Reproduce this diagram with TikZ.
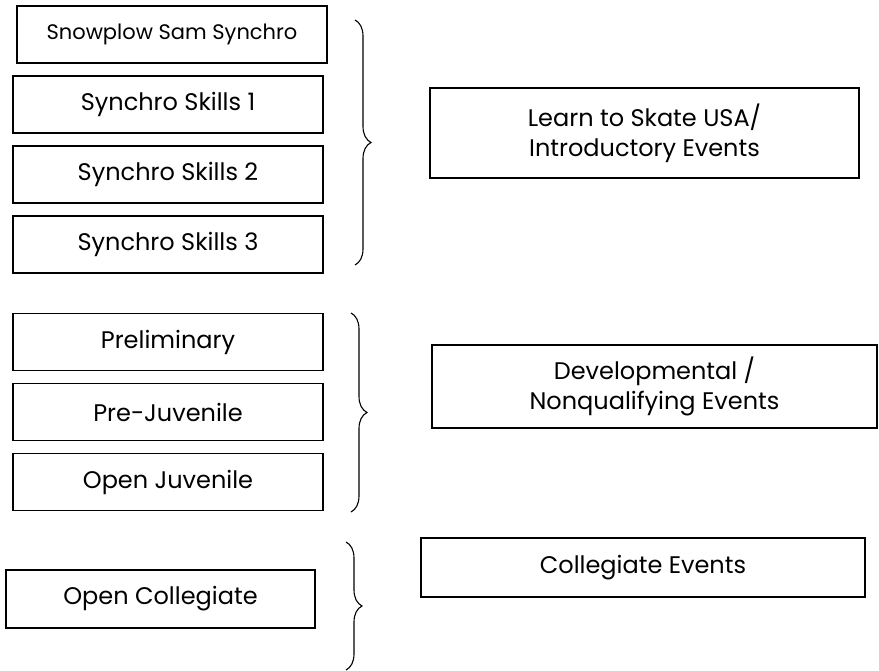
\documentclass[tikz,border=0pt]{standalone}
\usepackage{fontspec}
\setmainfont{Poppins}
\usetikzlibrary{positioning,decorations.pathreplacing}

\begin{document}
\begin{tikzpicture}[x=1pt,y=1pt,node distance=13pt,
  main/.style = {draw,line width=1.5pt,inner sep=0pt,outer sep=0pt,minimum width=310pt,minimum height=57pt,font=\fontsize{24}{30}\selectfont},
  grp/.style = {draw,line width=1.5pt,inner sep=0pt,outer sep=0pt,align=center,font=\fontsize{24}{30}\selectfont},
  brc/.style = {decorate,decoration={brace,amplitude=16pt},line width=1.1pt}]
\useasboundingbox (0,0) rectangle (879,671);

\node (snow) [main,font=\fontsize{21}{24}\selectfont] at (172,636.5) {Snowplow Sam Synchro};
\node (s1) [main,below=13pt of snow,xshift=-4pt] {Synchro Skills 1};
\node (s2) [main,below=of s1] {Synchro Skills 2};
\node (s3) [main,below=of s2] {Synchro Skills 3};

\node (pre) [main] at (168,329) {Preliminary};
\node (pj) [main,below=of pre] {Pre-Juvenile};
\node (oj) [main,below=of pj] {Open Juvenile};

\node (oc) [main,minimum width=309pt,minimum height=58pt] at (160.5,72) {Open Collegiate};

\node (lts) [grp,minimum width=429pt,minimum height=90pt] at (644.5,538) {Learn to Skate USA/\\Introductory Events};
\node (dev) [grp,minimum width=445pt,minimum height=83pt] at (654.5,284.5) {Developmental /\\Nonqualifying Events};
\node (col) [grp,minimum width=444pt,minimum height=59pt] at (643,103.5) {Collegiate Events};

\coordinate (b1t) at (355,651);
\coordinate (b1b) at (355,406);
\coordinate (b2t) at (351,358);
\coordinate (b2b) at (351,159);
\coordinate (b3t) at (346,129);
\coordinate (b3b) at (346,1);

\draw [brc] (b1t) -- (b1b);
\draw [brc] (b2t) -- (b2b);
\draw [brc] (b3t) -- (b3b);

\end{tikzpicture}
\end{document}
